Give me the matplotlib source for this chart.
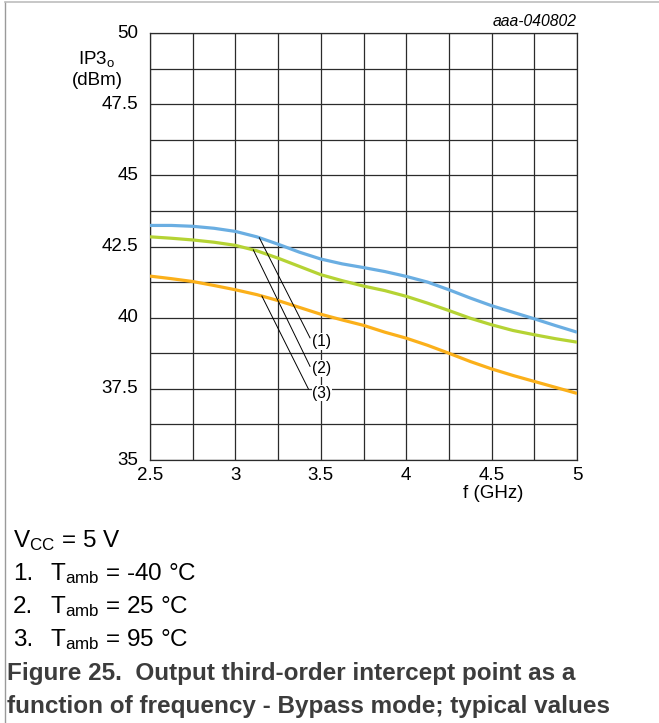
import matplotlib

matplotlib.use("Agg")
import matplotlib.pyplot as plt
import numpy as np
from matplotlib.lines import Line2D
from matplotlib.ticker import MultipleLocator

plt.rcParams["font.family"] = ["Liberation Sans", "DejaVu Sans"]
plt.rcParams["mathtext.fontset"] = "custom"
plt.rcParams["mathtext.rm"] = "Liberation Sans"
plt.rcParams["mathtext.it"] = "Liberation Sans:italic"

# frequency (GHz) and output IP3 (dBm) per ambient temperature
freq = [2.5, 2.625, 2.75, 2.875, 3.0, 3.125, 3.25, 3.375, 3.5, 3.625, 3.75,
        3.875, 4.0, 4.125, 4.25, 4.375, 4.5, 4.625, 4.75, 4.875, 5.0]
ip3_m40 = [43.24, 43.24, 43.21, 43.14, 43.03, 42.84, 42.58, 42.30, 42.06, 41.89, 41.76,
           41.62, 41.45, 41.25, 40.98, 40.69, 40.42, 40.19, 39.96, 39.72, 39.49]
ip3_25 = [42.84, 42.79, 42.73, 42.65, 42.54, 42.35, 42.09, 41.80, 41.51, 41.30, 41.11,
          40.95, 40.75, 40.51, 40.25, 39.98, 39.75, 39.55, 39.40, 39.26, 39.14]
ip3_95 = [41.46, 41.37, 41.27, 41.13, 40.98, 40.81, 40.60, 40.36, 40.12, 39.92, 39.73,
          39.49, 39.28, 39.03, 38.75, 38.46, 38.20, 37.97, 37.76, 37.55, 37.34]

curve_labels = ["(1)", "(2)", "(3)"]
colors = ["#6aaee2", "#b5d334", "#fbb01a"]
# where each leader line leaves its curve, and where its label sits
leader_from = [3.14, 3.105, 3.155]
leader_to = [(3.437, 39.29), (3.437, 38.29), (3.427, 37.50)]
label_pos = [(3.507, 39.17), (3.507, 38.22), (3.507, 37.35)]

notes = ["1.", "2.", "3."]
temps = ["-40 °C", "25 °C", "95 °C"]

W, H = 659, 723


def fx(px):
    return px / W


def fy(py):
    return 1 - py / H


fig = plt.figure(figsize=(W / 100, H / 100), dpi=100)
ax = fig.add_axes([fx(150), fy(460), 427 / W, 427 / H])

series = [ip3_m40, ip3_25, ip3_95]
for ys, c in zip(series, colors):
    ax.plot(freq, ys, color=c, lw=2.3, solid_capstyle="butt", zorder=3)

for ys, x0, (x1, y1), (lx, ly), lab in zip(series, leader_from, leader_to,
                                            label_pos, curve_labels):
    y0 = np.interp(x0, freq, ys)
    ax.plot([x0, x1], [y0, y1], color="black", lw=0.7, zorder=4)
    ax.text(lx, ly, lab, fontsize=11.2, ha="center", va="center", zorder=5,
            bbox=dict(facecolor="white", edgecolor="none", pad=0.6))

ax.set_xlim(2.5, 5)
ax.set_ylim(35, 50)
ax.xaxis.set_major_locator(MultipleLocator(0.5))
ax.xaxis.set_minor_locator(MultipleLocator(0.25))
ax.yaxis.set_major_locator(MultipleLocator(2.5))
ax.yaxis.set_minor_locator(MultipleLocator(1.25))
ax.set_xticklabels([])
ax.set_yticklabels([])
ax.grid(True, which="both", color="#2b2b2b", lw=0.9)
ax.set_axisbelow(True)
for sp in ax.spines.values():
    sp.set_color("#2b2b2b")
    sp.set_linewidth(0.9)
ax.tick_params(which="both", length=0)

for v in [2.5, 3, 3.5, 4, 4.5, 5]:
    ax.annotate(f"{v:g}", (v, 35), xytext=(0, -7), textcoords="offset pixels",
                ha="center", va="top", fontsize=13.5)
for v in [35, 37.5, 40, 42.5, 45, 47.5, 50]:
    ax.annotate(f"{v:g}", (2.5, v), xytext=(-12, 0), textcoords="offset pixels",
                ha="right", va="center", fontsize=13.5)

fig.text(fx(97), fy(64), r"IP3$_{\mathrm{o}}$", ha="center", va="baseline",
         fontsize=13.5)
fig.text(fx(97), fy(85), "(dBm)", ha="center", va="baseline", fontsize=13.5)
ax.annotate("f (GHz)", (4.51, 35), xytext=(0, -25), textcoords="offset pixels",
            ha="center", va="top", fontsize=13.5)
fig.text(fx(577), fy(26), "aaa-040802", ha="right", va="baseline",
         fontsize=11.3, style="italic")

# conditions and caption under the chart
fig.text(fx(13), fy(547), r"V$_{\mathrm{CC}}$ = 5 V", ha="left",
         va="baseline", fontsize=17.5)
for i, (n, t) in enumerate(zip(notes, temps)):
    y = fy(580 + 33 * i)
    fig.text(fx(13), y, n, ha="left", va="baseline", fontsize=17.5)
    fig.text(fx(50), y, r"T$_{\mathrm{amb}}$ = " + t, ha="left", va="baseline",
             fontsize=17.5)
fig.text(fx(7), fy(680), "Figure 25.  Output third-order intercept point as a",
         ha="left", va="baseline", fontsize=17.5, fontweight="bold", color="#3c3c3c")
fig.text(fx(7), fy(713), "function of frequency - Bypass mode; typical values",
         ha="left", va="baseline", fontsize=17.5, fontweight="bold", color="#3c3c3c")

# outer frame: left and top rules only
fig.add_artist(Line2D([fx(5), fx(5)], [0, fy(2)], color="#9a9a9a", lw=1))
fig.add_artist(Line2D([fx(5), 1], [fy(2), fy(2)], color="#bdbdbd", lw=1.2))

fig.savefig("out.png", dpi=100)
